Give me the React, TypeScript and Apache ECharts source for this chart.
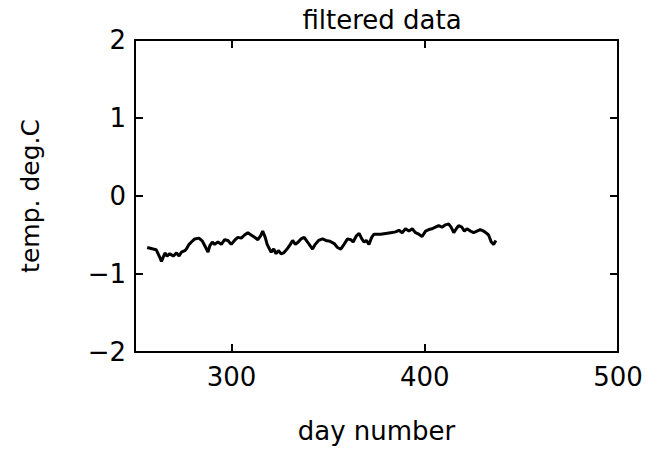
import React, { useEffect, useRef } from "react";
import * as echarts from "echarts";

const days: number[] = [
  256.3, 259.4, 261.0, 262.9, 263.7, 265.5, 266.6, 268.0, 269.8, 271.5, 272.8, 274.0,
  275.8, 276.6, 278.0, 279.2, 280.9, 283.1, 284.9, 286.6, 287.8, 288.7, 290.0, 291.2,
  292.9, 294.7, 296.4, 298.1, 299.8, 301.5, 303.2, 305.0, 306.7, 308.4, 310.1, 311.9,
  313.6, 315.0, 316.1, 317.4, 318.4, 319.6, 320.5, 321.8, 323.0, 324.2, 325.6, 326.9,
  328.7, 330.4, 331.6, 333.0, 334.5, 335.9, 337.6, 339.3, 340.7, 341.9, 343.3, 345.0,
  347.1, 348.8, 350.9, 353.1, 354.8, 356.5, 358.2, 360.0, 361.7, 362.9, 364.6, 366.0,
  367.4, 368.6, 369.7, 371.1, 372.5, 373.7, 375.4, 377.2, 379.7, 382.3, 384.9, 386.6,
  388.3, 390.0, 391.8, 393.5, 395.2, 396.9, 398.6, 400.4, 402.1, 403.8, 405.5, 407.2,
  408.9, 410.7, 412.4, 413.6, 415.0, 416.3, 417.5, 419.2, 420.5, 421.8, 423.6, 425.3,
  427.0, 428.7, 430.4, 431.6, 433.0, 434.4, 435.6, 436.8,
];

const temps: number[] = [
  -0.66, -0.68, -0.69, -0.79, -0.84, -0.73, -0.77, -0.74, -0.77, -0.73, -0.77, -0.72,
  -0.70, -0.68, -0.62, -0.59, -0.55, -0.54, -0.58, -0.66, -0.72, -0.64, -0.59, -0.62,
  -0.59, -0.62, -0.56, -0.57, -0.62, -0.57, -0.53, -0.54, -0.50, -0.47, -0.50, -0.53,
  -0.56, -0.51, -0.45, -0.53, -0.62, -0.68, -0.72, -0.68, -0.74, -0.70, -0.74, -0.73,
  -0.68, -0.62, -0.57, -0.62, -0.59, -0.55, -0.53, -0.59, -0.64, -0.68, -0.62, -0.57,
  -0.55, -0.57, -0.58, -0.61, -0.66, -0.68, -0.62, -0.55, -0.56, -0.59, -0.51, -0.48,
  -0.55, -0.59, -0.57, -0.62, -0.53, -0.49, -0.49, -0.49, -0.48, -0.47, -0.46, -0.44,
  -0.47, -0.42, -0.45, -0.42, -0.47, -0.49, -0.52, -0.45, -0.43, -0.42, -0.40, -0.38,
  -0.40, -0.37, -0.36, -0.40, -0.47, -0.42, -0.38, -0.40, -0.45, -0.42, -0.45, -0.47,
  -0.45, -0.43, -0.45, -0.47, -0.50, -0.59, -0.62, -0.57,
];

const xTicks: number[] = [300, 400, 500];
const yTicks: number[] = [-2, -1, 0, 1, 2];

const FONT = "DejaVu Sans";

export default function App() {
  const ref = useRef<HTMLDivElement>(null);
  useEffect(() => {
    if (!ref.current) return;
    const chart = echarts.init(ref.current, null, { renderer: "svg" });
    const axisLine = { show: true, onZero: false, lineStyle: { color: "#000", width: 2 } };
    const tick = { show: true, inside: true, length: 8, lineStyle: { color: "#000", width: 2 } };
    chart.setOption({
      animation: false,
      backgroundColor: "#fff",
      title: {
        text: "filtered data",
        left: 377,
        top: 2,
        textAlign: "center",
        textStyle: { fontFamily: FONT, fontSize: 26, fontWeight: "normal", color: "#000" },
      },
      grid: { left: 135, right: 43, top: 40, bottom: 106, show: false },
      xAxis: [
        {
          type: "value",
          min: 250,
          max: 500,
          position: "bottom",
          name: "day number",
          nameLocation: "middle",
          nameGap: 66,
          nameTextStyle: { fontFamily: FONT, fontSize: 26, color: "#000" },
          axisLine,
          axisTick: { ...tick, customValues: xTicks },
          axisLabel: {
            customValues: xTicks,
            margin: 12,
            fontFamily: FONT,
            fontSize: 26,
            color: "#000",
          },
          splitLine: { show: false },
        },
        {
          type: "value",
          min: 250,
          max: 500,
          position: "top",
          axisLine,
          axisTick: { ...tick, customValues: xTicks },
          axisLabel: { show: false },
          splitLine: { show: false },
        },
      ],
      yAxis: [
        {
          type: "value",
          min: -2,
          max: 2,
          interval: 1,
          position: "left",
          name: "temp. deg.C",
          nameLocation: "middle",
          nameGap: 92,
          nameRotate: 90,
          nameTextStyle: { fontFamily: FONT, fontSize: 25, color: "#000" },
          axisLine,
          axisTick: { ...tick, customValues: yTicks },
          axisLabel: {
            customValues: yTicks,
            margin: 9,
            fontFamily: FONT,
            fontSize: 26,
            color: "#000",
            formatter: (v: number) => (v < 0 ? "\u2212" + Math.abs(v) : String(v)),
          },
          splitLine: { show: false },
        },
        {
          type: "value",
          min: -2,
          max: 2,
          interval: 1,
          position: "right",
          axisLine,
          axisTick: { ...tick, customValues: yTicks },
          axisLabel: { show: false },
          splitLine: { show: false },
        },
      ],
      series: [
        {
          type: "line",
          data: days.map((d, i) => [d, temps[i]]),
          showSymbol: false,
          lineStyle: { color: "#000", width: 3 },
          xAxisIndex: 0,
          yAxisIndex: 0,
        },
      ],
    });
    return () => chart.dispose();
  }, []);
  return <div ref={ref} style={{ width: 661, height: 458, position: "absolute", left: 0, top: 0 }} />;
}
